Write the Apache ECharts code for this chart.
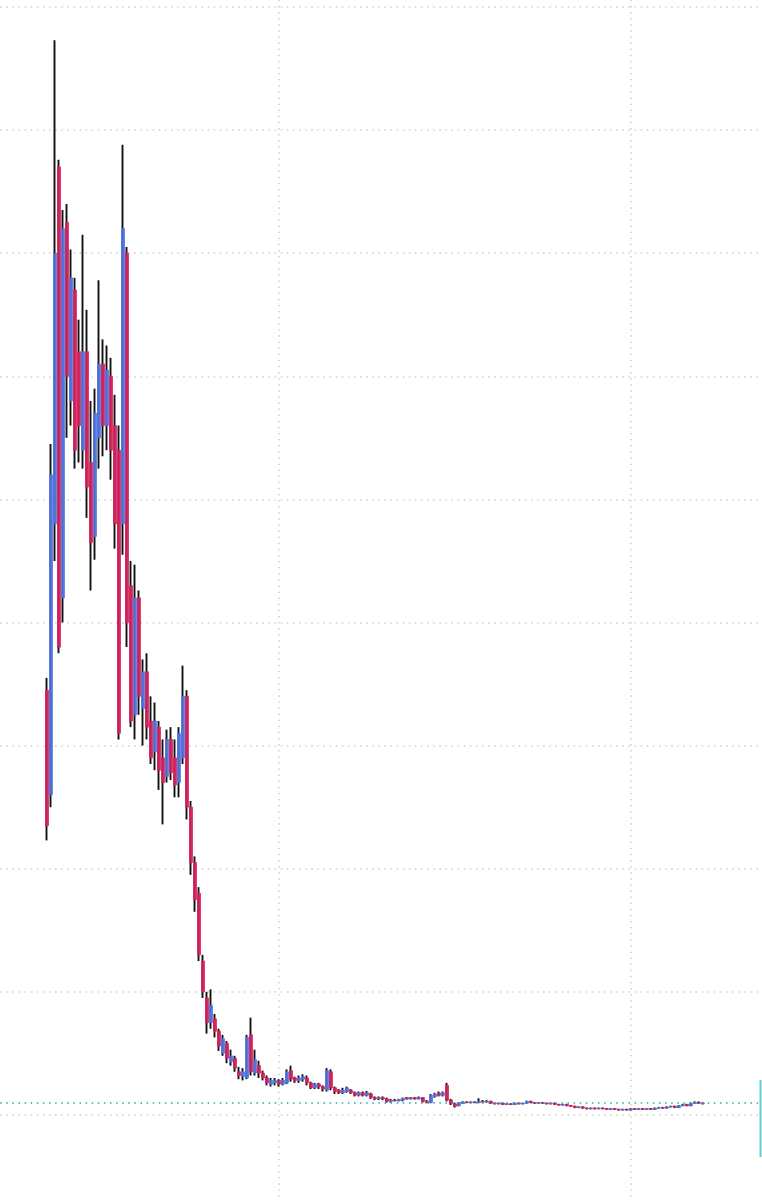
<!DOCTYPE html>
<html>
<head>
<meta charset="utf-8">
<style>html,body{margin:0;padding:0;background:#fff;}#c{width:762px;height:1200px;}</style>
<script src="https://cdn.jsdelivr.net/npm/echarts@6/dist/echarts.min.js"></script>
</head>
<body>
<div id="c"></div>
<script>
// x position (in axis units) of the first candle; one unit per candle
const startX = 30;
const open = [44.5,36.0,58,87.0,52,82.5,68,77,72,64,72,63,57,65,71,66,70,66,64,58,80,53,42.5,52,43,46,42,39.5,41.5,39,37.5,40.5,39,37,39,44,35,30.5,28,22.5,19.5,17.5,17.8,16.8,15.0,15.8,14.3,14.6,13.5,13.1,13.0,16.5,13.4,14.0,13.4,13.0,12.5,12.6,12.8,12.5,12.6,13.6,13.0,12.8,12.9,13.0,12.6,12.2,12.5,12.3,12.0,13.5,12.2,12.0,11.8,11.9,12.0,11.8,11.6,11.8,11.6,11.7,11.4,11.3,11.4,11.3,11.1,11.2,11.15,11.2,11.4,11.3,11.4,11.3,11.4,11.1,11.0,11.5,11.75,11.6,12.4,11.2,10.9,10.75,10.95,11.05,11.0,11.05,11.0,11.1,11.05,11.1,10.95,10.9,10.95,10.85,10.9,10.85,10.95,10.9,10.95,11.1,11.0,10.95,11.0,10.95,10.9,10.95,10.85,10.8,10.85,10.75,10.7,10.6,10.65,10.55,10.5,10.55,10.5,10.55,10.5,10.45,10.5,10.45,10.4,10.45,10.4,10.5,10.45,10.5,10.45,10.5,10.45,10.55,10.6,10.55,10.65,10.7,10.6,10.75,10.85,10.75,10.95,11.0,10.9];
const close = [33.5,62.0,80,48.0,82,70,78,64,66,72,61,56.5,67,71,66,70.5,64,58,41,82,50,42,52,44,46,41.5,39,42,38,37,40.5,37.8,36.8,41,44,35,30.5,27.5,23,20.0,17.5,18.9,16.8,15.6,16.2,14.6,14.8,13.8,13.2,13.5,16.3,13.5,14.5,13.4,13.0,12.6,12.8,12.8,12.5,12.8,13.5,12.9,12.8,13.0,13.1,12.6,12.2,12.5,12.3,12.1,13.6,12.2,11.9,11.8,12.0,12.2,11.8,11.6,11.8,11.6,11.8,11.4,11.3,11.4,11.3,11.1,11.2,11.15,11.25,11.35,11.3,11.4,11.3,11.4,11.1,11.0,11.6,11.7,11.6,11.8,11.2,10.9,10.7,11.0,11.05,11.0,11.05,11.0,11.1,11.05,11.1,10.95,10.9,10.95,10.85,10.9,10.85,10.95,10.9,10.95,11.1,11.0,10.95,11.0,10.95,10.9,10.95,10.85,10.8,10.85,10.75,10.7,10.6,10.65,10.55,10.5,10.55,10.5,10.55,10.5,10.45,10.5,10.45,10.4,10.45,10.4,10.5,10.45,10.5,10.45,10.5,10.45,10.55,10.6,10.55,10.65,10.7,10.6,10.75,10.85,10.75,10.95,11.0,10.95,10.95];
const low = [32.3,35.0,55,47.5,50,65,66,62.5,63,62.5,58.5,52.6,55.1,62.5,63.5,64,61.6,56,40.5,55.5,48,41.5,40.5,42.5,40,40.5,38.5,38.0,36.4,33.6,37,37.2,35.8,35.8,38.5,34,29.5,26.5,22.5,19.5,16.6,17.0,16.3,15.2,14.8,14.2,14.0,13.5,12.9,12.8,12.9,13.2,13.2,13.0,12.8,12.4,12.3,12.4,12.3,12.4,12.5,12.7,12.6,12.6,12.7,12.4,12.1,12.1,12.1,11.9,11.9,12.0,11.7,11.7,11.7,11.8,11.7,11.5,11.5,11.5,11.5,11.3,11.2,11.2,11.2,11.0,11.0,11.1,11.1,11.1,11.25,11.25,11.25,11.25,11.0,10.95,10.95,11.4,11.5,11.5,11.1,10.8,10.6,10.7,10.9,10.95,10.95,10.95,10.95,11.0,11.0,10.9,10.85,10.85,10.8,10.8,10.8,10.8,10.85,10.85,10.9,10.95,10.9,10.9,10.9,10.85,10.85,10.8,10.75,10.75,10.7,10.65,10.55,10.55,10.5,10.45,10.45,10.45,10.45,10.45,10.4,10.4,10.4,10.35,10.35,10.35,10.35,10.4,10.4,10.4,10.4,10.4,10.4,10.5,10.5,10.5,10.6,10.55,10.55,10.7,10.7,10.7,10.9,10.9,10.85];
const high = [45.5,64.5,97.3,87.6,83.5,84.0,80.3,78,74.6,81.5,75.4,68,69,77.8,73,72.5,71.5,68.5,66,88.8,80.5,55,54.7,52.6,47,47.5,44,43.5,42,40.5,41.3,41.5,40.5,41.5,46.5,44.5,35.5,31,28.5,23,20.0,20.2,18.2,17.0,16.5,16.0,15.3,14.8,13.9,13.8,16.5,17.9,15.3,14.4,13.6,13.2,13.0,13.0,12.9,13.0,13.7,14.0,13.1,13.2,13.3,13.2,12.7,12.6,12.6,12.4,13.8,13.7,12.3,12.1,12.2,12.3,12.1,11.9,11.9,11.9,11.95,11.8,11.5,11.5,11.5,11.4,11.3,11.3,11.3,11.4,11.45,11.45,11.45,11.5,11.45,11.2,11.7,11.8,11.9,11.9,12.6,11.3,11.0,11.05,11.1,11.1,11.1,11.1,11.35,11.2,11.2,11.15,11.0,11.0,11.0,10.95,10.95,11.0,11.0,11.0,11.15,11.15,11.05,11.05,11.05,11.0,11.0,11.0,10.9,10.9,10.9,10.8,10.75,10.7,10.7,10.6,10.6,10.6,10.6,10.6,10.55,10.55,10.55,10.5,10.5,10.5,10.55,10.55,10.55,10.55,10.55,10.55,10.6,10.65,10.65,10.7,10.75,10.75,10.8,10.9,10.9,11.0,11.1,11.1,11.05];

const wickData = open.map((o, i) => [startX + i, o, close[i], low[i], high[i]]);
const bodyData = open.map((o, i) => [startX + i, o, close[i], Math.min(o, close[i]), Math.max(o, close[i])]);
const lastClose = close[close.length - 1];

const chart = echarts.init(document.getElementById('c'), null, {renderer: 'canvas'});
const gridLine = {show: true, lineStyle: {color: '#cfcfcf', width: 1.5, type: [1.5, 4.6]}};
chart.setOption({
  animation: false,
  backgroundColor: '#ffffff',
  grid: {left: -73, width: 1056, top: -116.1, height: 1477.2, containLabel: false, outerBoundsMode: 'none'},
  xAxis: {
    type: 'value', min: 0, max: 264, interval: 88,
    axisLine: {show: false}, axisTick: {show: false}, axisLabel: {show: false},
    splitLine: gridLine
  },
  yAxis: {
    type: 'value', min: -10, max: 110, interval: 10,
    axisLine: {show: false}, axisTick: {show: false}, axisLabel: {show: false},
    splitLine: gridLine
  },
  series: [
    {
      type: 'candlestick', name: 'wick',
      data: wickData, encode: {x: 0, y: [1, 2, 3, 4]},
      barWidth: 1,
      itemStyle: {color: '#111111', color0: '#111111', borderColor: '#111111', borderColor0: '#111111', borderWidth: 1.9},
      silent: true
    },
    {
      type: 'candlestick', name: 'body',
      data: bodyData, encode: {x: 0, y: [1, 2, 3, 4]},
      barWidth: 2.8,
      itemStyle: {color: '#4f74e3', color0: '#d81e5b', borderColor: '#4f74e3', borderColor0: '#d81e5b', borderWidth: 0.8, opacity: 0.92},
      silent: true,
      markLine: {
        silent: true, symbol: ['none', 'none'], label: {show: false},
        lineStyle: {color: '#2aa7b3', width: 1.5, type: [1.5, 4.6]},
        data: [{yAxis: lastClose}]
      }
    }
  ],
  graphic: [{
    type: 'line', shape: {x1: 760.5, y1: 1080, x2: 760.5, y2: 1157},
    style: {stroke: '#5fcfcf', lineWidth: 2}
  }]
});
</script>
</body>
</html>
